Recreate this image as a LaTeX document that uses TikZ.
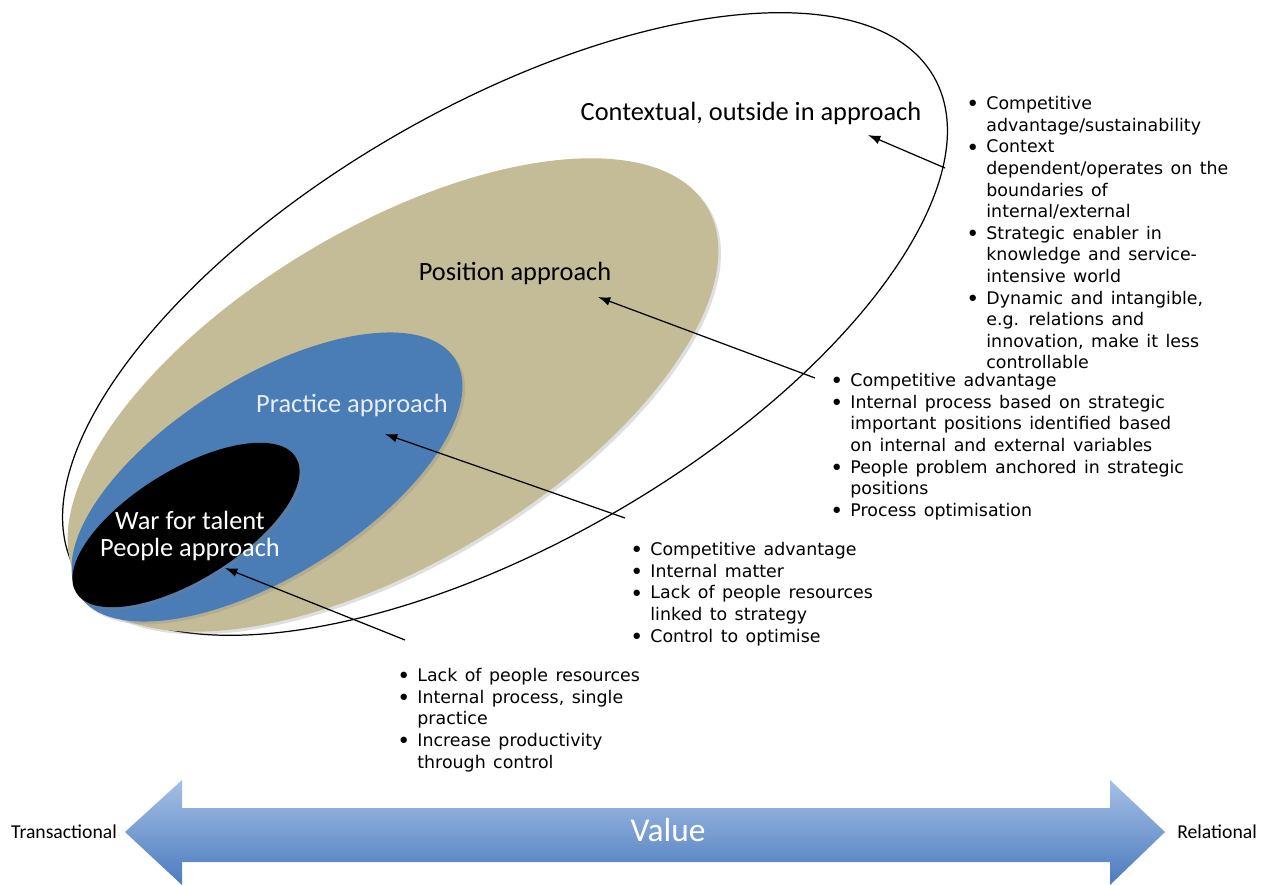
\documentclass[tikz,border=0pt]{standalone}
\usepackage{fontspec}
\setmainfont{DejaVu Sans}
\newfontfamily\labelfont{Carlito}
\newfontfamily\listfont[WordSpace=1.35]{DejaVu Sans}
\usetikzlibrary{positioning,arrows.meta,shadows}

\definecolor{tanfill}{HTML}{C4BC97}
\definecolor{bluefill}{HTML}{4A7CB6}
\definecolor{arrowtop}{HTML}{A5C0E5}
\definecolor{arrowbot}{HTML}{4B7BBE}
\definecolor{paletext}{HTML}{E8EEF6}

\tikzset{
	ring/.style={line width=0.7pt},
	blob/.style={drop shadow={opacity=0.25,shadow xshift=1.5pt,shadow yshift=-1.5pt}},
	approach/.style={font=\labelfont\fontsize{15}{15}\selectfont},
	bullets/.style={align=left,inner sep=0pt,anchor=north west,font=\listfont\fontsize{9.9}{12.3}\selectfont},
	pointer/.style={-{Latex[length=7pt,width=5pt]},line width=0.7pt},
	endlabel/.style={font=\labelfont\fontsize{11.2}{13}\selectfont},
}
\newcommand{\itm}{\makebox[11.4pt][l]{\raisebox{-1.3pt}{\fontsize{12.5}{12}\selectfont\textbullet}}}
\newcommand{\cnt}{\hspace*{11.4pt}}

\begin{document}
\begin{tikzpicture}[x=0.2mm,y=-0.2mm]
	\useasboundingbox (0,0) rectangle (1268,885);
	% nested approaches
	\draw[ring,fill=white,shift={(505,324)},rotate=30] (0,0) ellipse (495 and 218);
	\fill[tanfill,blob,shift={(393,395)},rotate=31] (0,0) ellipse (366 and 167);
	\fill[bluefill,blob,shift={(267,477)},rotate=32] (0,0) ellipse (222 and 99);
	\fill[black,blob,shift={(186,525)},rotate=31.6] (0,0) ellipse (129 and 55);

	\node[approach] (ctxlbl) at (751,113) {Contextual, outside in approach};
	\node[approach] (poslbl) at (515,273) {Position approach};
	\node[approach,text=paletext] (praclbl) at (352,405) {Practice approach};
	\node[approach,text=white,align=center] (warlbl) at (190,536) {War for talent\\People approach};

	% value arrow
	\shade[top color=arrowtop,bottom color=arrowbot] (125,832) -- (182,780) -- (182,808) -- (1110,808) -- (1110,780) -- (1165,832) -- (1110,885) -- (1110,862) -- (182,862) -- (182,885) -- cycle;
	\node[font=\labelfont\fontsize{19}{22}\selectfont,text=white] (value) at (668,830) {Value};
	\node[endlabel] (trans) at (64,832) {Transactional};
	\node[endlabel] (rel) at (1217,832) {Relational};

	% bullet lists
	\node[bullets] (ctxlist) at (966,96) {\itm Competitive\\ \cnt advantage/sustainability\\ \itm Context\\ \cnt dependent/operates on the\\ \cnt boundaries of\\ \cnt internal/external\\ \itm Strategic enabler in\\ \cnt knowledge and service-\\ \cnt intensive world\\ \itm Dynamic and intangible,\\ \cnt e.g. relations and\\ \cnt innovation, make it less\\ \cnt controllable};
	\node[bullets] (poslist) at (830,373) {\itm Competitive advantage\\ \itm Internal process based on strategic\\ \cnt important positions identified based\\ \cnt on internal and external variables\\ \itm People problem anchored in strategic\\ \cnt positions\\ \itm Process optimisation};
	\node[bullets] (praclist) at (630,542) {\itm Competitive advantage\\ \itm Internal matter\\ \itm Lack of people resources\\ \cnt linked to strategy\\ \itm Control to optimise};
	\node[bullets] (warlist) at (397,668) {\itm Lack of people resources\\ \itm Internal process, single\\ \cnt practice\\ \itm Increase productivity\\ \cnt through control};

	% pointers
	\coordinate (ctxfrom) at (945,168);
	\coordinate (ctxto) at (868,135);
	\coordinate (posfrom) at (815,378);
	\coordinate (posto) at (598,297);
	\coordinate (pracfrom) at (625,518);
	\coordinate (practo) at (385,434);
	\coordinate (warfrom) at (405,640);
	\coordinate (warto) at (225,568);
	\draw[pointer] (ctxfrom) -- (ctxto);
	\draw[pointer] (posfrom) -- (posto);
	\draw[pointer] (pracfrom) -- (practo);
	\draw[pointer] (warfrom) -- (warto);
\end{tikzpicture}
\end{document}
